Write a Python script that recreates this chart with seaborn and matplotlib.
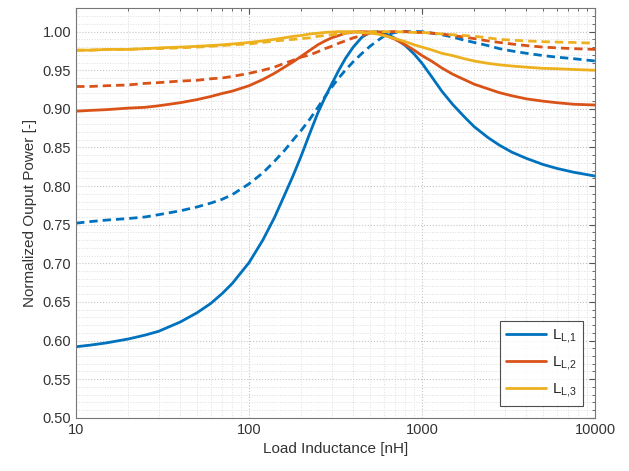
import numpy as np
import pandas as pd
import matplotlib
matplotlib.use("Agg")
import matplotlib.pyplot as plt
import seaborn as sns
from matplotlib.ticker import FixedLocator, FormatStrFormatter, LogLocator, NullFormatter

# load inductance [nH]
L_nH = [10, 12, 15, 20, 25, 30, 40, 50, 60, 70, 80, 100, 120, 140, 160, 180, 200, 225, 250,
        275, 300, 330, 360, 400, 450, 500, 550, 600, 650, 700, 800, 900, 1000, 1150, 1300,
        1500, 1750, 2000, 2400, 2800, 3300, 4000, 5000, 6000, 7500, 10000]

# solid curves
p_L1 = [0.592, 0.594, 0.597, 0.602, 0.607, 0.612, 0.624, 0.636, 0.648, 0.661, 0.674, 0.701,
        0.730, 0.759, 0.788, 0.814, 0.839, 0.869, 0.895, 0.915, 0.932, 0.950, 0.965, 0.980,
        0.993, 0.999, 1.000, 0.998, 0.995, 0.991, 0.982, 0.971, 0.959, 0.940, 0.923, 0.906,
        0.890, 0.877, 0.863, 0.853, 0.844, 0.836, 0.828, 0.823, 0.818, 0.813]
p_L2 = [0.897, 0.898, 0.899, 0.901, 0.902, 0.904, 0.908, 0.912, 0.916, 0.920, 0.923, 0.930,
        0.938, 0.946, 0.954, 0.961, 0.968, 0.976, 0.983, 0.988, 0.992, 0.995, 0.998, 0.9995,
        1.000, 0.9995, 0.998, 0.996, 0.993, 0.990, 0.983, 0.976, 0.969, 0.961, 0.953, 0.945,
        0.938, 0.932, 0.926, 0.921, 0.917, 0.913, 0.910, 0.908, 0.906, 0.905]
p_L3 = [0.976, 0.976, 0.977, 0.977, 0.978, 0.979, 0.980, 0.981, 0.982, 0.983, 0.984, 0.986,
        0.988, 0.990, 0.992, 0.994, 0.995, 0.997, 0.998, 0.999, 0.9995, 1.000, 1.000, 1.000,
        0.999, 0.998, 0.997, 0.995, 0.993, 0.991, 0.987, 0.983, 0.980, 0.976, 0.972, 0.969,
        0.965, 0.962, 0.959, 0.957, 0.9555, 0.954, 0.9525, 0.952, 0.951, 0.950]

# dashed curves
p_L1_d = [0.752, 0.754, 0.756, 0.758, 0.760, 0.763, 0.768, 0.773, 0.778, 0.783, 0.789, 0.803,
          0.817, 0.832, 0.846, 0.860, 0.872, 0.887, 0.902, 0.916, 0.928, 0.940, 0.950, 0.961,
          0.972, 0.981, 0.988, 0.994, 0.997, 0.999, 1.000, 1.000, 1.000, 0.998, 0.996, 0.993,
          0.989, 0.986, 0.982, 0.978, 0.975, 0.972, 0.969, 0.967, 0.965, 0.962]
p_L2_d = [0.929, 0.929, 0.930, 0.931, 0.933, 0.934, 0.936, 0.937, 0.939, 0.940, 0.942, 0.946,
          0.950, 0.954, 0.959, 0.963, 0.967, 0.970, 0.974, 0.978, 0.981, 0.985, 0.988, 0.992,
          0.995, 0.998, 0.999, 1.000, 1.000, 1.000, 1.000, 0.999, 0.999, 0.998, 0.997, 0.995,
          0.993, 0.991, 0.988, 0.986, 0.984, 0.982, 0.980, 0.979, 0.978, 0.977]
p_L3_d = [0.976, 0.976, 0.977, 0.977, 0.978, 0.978, 0.979, 0.980, 0.981, 0.982, 0.983, 0.984,
          0.986, 0.988, 0.989, 0.990, 0.991, 0.992, 0.994, 0.995, 0.996, 0.997, 0.998, 0.999,
          0.9995, 1.000, 1.000, 1.000, 1.000, 1.000, 0.9995, 0.999, 0.999, 0.998, 0.997, 0.996,
          0.995, 0.994, 0.992, 0.990, 0.989, 0.988, 0.987, 0.9865, 0.986, 0.985]

labels = [r"$\mathregular{L_{L{,}1}}$", r"$\mathregular{L_{L{,}2}}$", r"$\mathregular{L_{L{,}3}}$"]
colors = ["#0072BD", "#D95319", "#EDB120"]

sns.set_style("white")
plt.rcParams["font.family"] = ["Liberation Sans", "DejaVu Sans"]
plt.rcParams["mathtext.fontset"] = "custom"
plt.rcParams["mathtext.rm"] = "Liberation Sans"

fig = plt.figure(figsize=(6.29, 4.71), dpi=100)
ax = fig.add_axes([0.121, 0.113, 0.825, 0.869])

solid = [p_L1, p_L2, p_L3]
dashed = [p_L1_d, p_L2_d, p_L3_d]

for s, d, c, lab in zip(solid, dashed, colors, labels):
    sns.lineplot(x=L_nH, y=s, color=c, lw=2, label=lab, ax=ax)
    sns.lineplot(x=L_nH, y=d, color=c, lw=2, label="_nolegend_", ax=ax)
    ax.lines[-1].set_dashes((3, 1.8))

ax.set_xscale("log")
ax.set_xlim(10, 10000)
ax.set_ylim(0.5, 1.03)
ax.xaxis.set_major_locator(FixedLocator([10, 100, 1000, 10000]))
ax.set_xticklabels(["10", "100", "1000", "10000"])
ax.xaxis.set_minor_locator(LogLocator(base=10, subs=np.arange(2, 10)))
ax.xaxis.set_minor_formatter(NullFormatter())
ax.yaxis.set_major_locator(FixedLocator(np.arange(0.5, 1.001, 0.05)))
ax.yaxis.set_minor_locator(FixedLocator(np.arange(0.5, 1.031, 0.01)))
ax.yaxis.set_major_formatter(FormatStrFormatter("%.2f"))

ax.grid(True, which="major", linestyle=":", color="#c4c4c4", lw=0.8)
ax.grid(True, which="minor", linestyle=":", color="#dedede", lw=0.7)
ax.set_axisbelow(True)
ax.tick_params(which="both", direction="in", top=True, right=True, colors="#555555",
               labelcolor="#333333", labelsize=10.5)
ax.tick_params(which="major", length=4)
ax.tick_params(which="minor", length=2)
for sp in ax.spines.values():
    sp.set_color("#777777")
    sp.set_linewidth(0.8)

ax.set_xlabel("Load Inductance [nH]", fontsize=11, color="#333333")
ax.set_ylabel("Normalized Ouput Power [-]", fontsize=11, color="#333333")

leg = ax.legend(loc="lower right", fontsize=11, frameon=True, fancybox=False,
                edgecolor="#222222", handlelength=2.6, borderaxespad=0.8,
                labelspacing=0.6, handletextpad=0.4)
leg.get_frame().set_linewidth(0.8)

fig.savefig("out.png", dpi=100)
